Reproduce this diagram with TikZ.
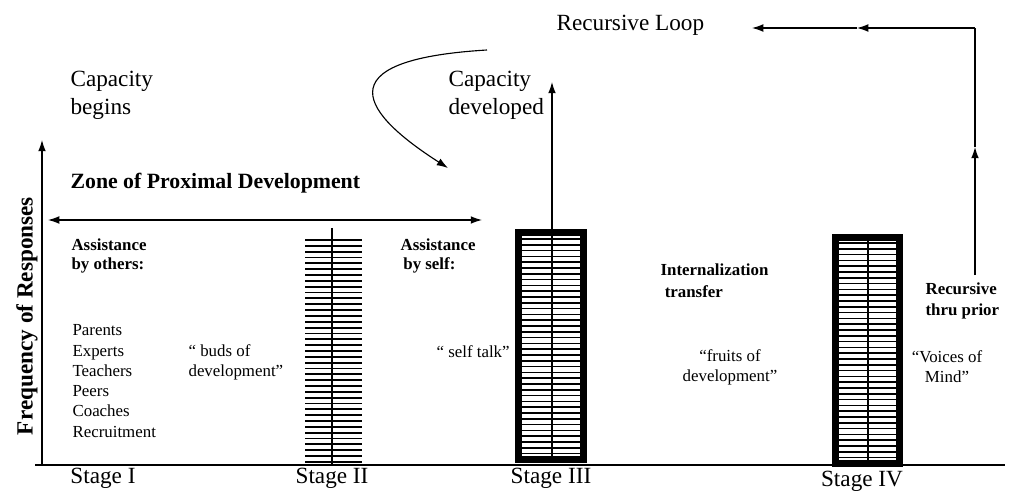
\documentclass[tikz,border=0pt]{standalone}
\usepackage{fontspec}
\setmainfont{Liberation Serif}
\usetikzlibrary{arrows.meta}

\tikzset{
  bigtext/.style={font=\fontsize{16.5}{20}\selectfont, align=left, inner sep=0pt},
  smalltext/.style={font=\fontsize{12}{14.4}\selectfont, align=left, inner sep=0pt},
  boldtext/.style={font=\bfseries\fontsize{12}{13}\selectfont, align=left, inner sep=0pt},
  hatch/.style={line width=1.3pt},
  thinhatch/.style={line width=1pt},
  barframe/.style={line width=5pt},
}

\begin{document}
\begin{tikzpicture}[x=0.025cm, y=-0.025cm, line width=0.8pt,
    >={Latex[length=8pt,width=5.5pt]}]
      \useasboundingbox (0,0) rectangle (1011,491);

      % Draw axes
      \coordinate (origin) at (42,465);
      \coordinate (ytop) at (42,140);
      \coordinate (xleft) at (35,465);
      \coordinate (xright) at (1005,465);
      \draw[->] (origin) -- (ytop);
      \draw (xleft) -- (xright);

      % Zone of proximal development
      \node[font=\bfseries\fontsize{15.5}{17}\selectfont, anchor=west, inner sep=0pt] (zpd) at (70,183) {Zone of Proximal Development};
      \coordinate (zpdl) at (48,220);
      \coordinate (zpdr) at (482,220);
      \draw[<->] (zpdl) -- (zpdr);

      \node[font=\bfseries\fontsize{16.5}{19}\selectfont, rotate=90, inner sep=0pt] (ylabel) at (27,316) {Frequency of Responses};

      % Stage II bar
      \foreach \k in {0,...,38}
        \draw[hatch] (305,{240+5.84*\k}) -- (362,{240+5.84*\k});
      \draw[line width=1.2pt] (332,228) -- (332,466);

      % Stage III bar
      \foreach \k in {0,...,37}
        \draw[thinhatch] (521,{239+5.8*\k}) -- (581,{239+5.8*\k});
      \draw (552,232) -- (552,460);
      \draw[barframe] (518.5,232.5) rectangle (583.5,459.5);
      \coordinate (s3top) at (552,229);
      \coordinate (s3up) at (552,82);
      \draw[->] (s3top) -- (s3up);

      % Stage IV bar
      \foreach \k in {0,...,37}
        \draw[thinhatch] (838,{243+5.8*\k}) -- (897,{243+5.8*\k});
      \draw (868,237) -- (868,464);
      \draw[barframe] (835.5,237.5) rectangle (899.5,463.5);

      % Recursive loop
      \coordinate (loopbot) at (975,275);
      \coordinate (loopmid) at (975,147);
      \coordinate (loopcorner) at (975,28);
      \coordinate (loophalf) at (857,28);
      \coordinate (loopend) at (752,28);
      \draw[->] (loopbot) -- (loopmid);
      \draw (loopmid) -- (loopcorner);
      \draw[->] (loopcorner) -- (loophalf);
      \draw[->] (loophalf) -- (loopend);
      \node[bigtext, anchor=west] (loop) at (556,25) {Recursive Loop};

      % Curved arrow
      \coordinate (curvestart) at (487,50);
      \coordinate (curveend) at (448,168);
      \draw[->] (curvestart) .. controls (320,60) and (365,115) .. (curveend);

      % Texts
      \node[bigtext, anchor=west] (capbegin) at (70,95) {Capacity\\begins};
      \node[bigtext, anchor=west] (capdev) at (448,95) {Capacity\\developed};

      \node[boldtext, anchor=west] (assistothers) at (71,256) {Assistance\\by others:};
      \node[smalltext, anchor=west] (helpers) at (72,381) {Parents\\Experts\\Teachers\\Peers\\Coaches\\Recruitment};
      \node[smalltext, anchor=west] (buds) at (188,362) {“ buds of\\development”};

      \node[boldtext, anchor=west] (assistself) at (400,256) {Assistance\\\hspace{2pt}by self:};
      \node[smalltext, anchor=west] (selftalk) at (436,352) {“ self talk”};

      \node[boldtext, anchor=west, font=\bfseries\fontsize{12}{15.5}\selectfont] (intern) at (660,281) {Internalization\\\hspace{3pt}transfer};
      \node[smalltext, align=center] (fruits) at (730,367) {“fruits of\\development”};

      \node[boldtext, anchor=west, font=\bfseries\fontsize{12}{15.5}\selectfont] (recthru) at (925,301) {Recursive\\thru prior};
      \node[smalltext, align=center] (voices) at (947,367) {“Voices of\\Mind”};

      % Stage labels
      \node[bigtext] (stage1) at (103,478) {Stage I};
      \node[bigtext] (stage2) at (332,478) {Stage II};
      \node[bigtext] (stage3) at (551,478) {Stage III};
      \node[bigtext] (stage4) at (862,481) {Stage IV};
\end{tikzpicture}
\end{document}
